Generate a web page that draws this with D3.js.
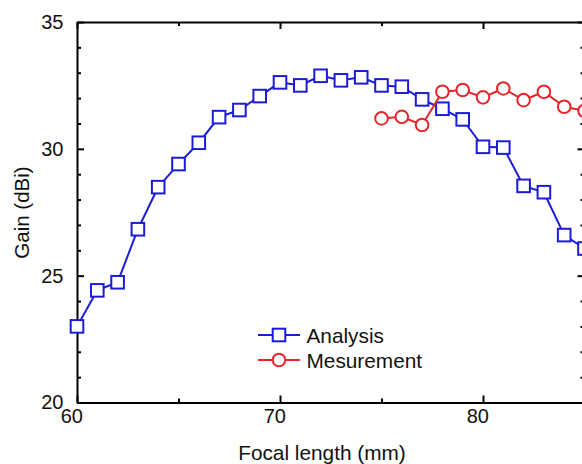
<!DOCTYPE html>
<html lang="en">
<head>
<meta charset="UTF-8">
<title>Gain vs focal length</title>
<script src="https://d3js.org/d3.v7.min.js"></script>
<style>
  body { margin: 0; background: #fff; }
  svg { display: block; font-family: "Liberation Sans", Arial, sans-serif; }
  .axis path, .axis line { stroke: #000; stroke-width: 2; }
  .axis text { font-size: 20px; fill: #111; font-family: "Liberation Sans", Arial, sans-serif; }
</style>
</head>
<body>
<div id="chart"></div>
<script>
// data
const focal = [60, 61, 62, 63, 64, 65, 66, 67, 68, 69, 70, 71, 72, 73, 74, 75, 76, 77, 78, 79, 80, 81, 82, 83, 84, 85];
const analysis = [23.0, 24.42, 24.74, 26.83, 28.49, 29.4, 30.24, 31.25, 31.53, 32.08, 32.62, 32.5, 32.88, 32.7, 32.82, 32.5, 32.45, 31.95, 31.58, 31.16, 30.08, 30.05, 28.54, 28.29, 26.6, 26.07];
const measFocal = [75, 76, 77, 78, 79, 80, 81, 82, 83, 84, 85];
const measurement = [31.2, 31.26, 30.94, 32.25, 32.32, 32.03, 32.38, 31.92, 32.25, 31.66, 31.5];
const xMajor = [60, 70, 80];
const xMinor = [65, 75, 85];
const yMajor = [20, 25, 30, 35];
const yMinor = [21, 22, 23, 24, 26, 27, 28, 29, 31, 32, 33, 34];
const seriesNames = ["Analysis", "Mesurement"];

const w = 582, h = 464;
const pLeft = 77, pRight = 584.5, pTop = 22, pBottom = 402.5;
const blue = "#1c1cd6", red = "#e4262b";

const x = d3.scaleLinear().domain([60, 85]).range([pLeft, pRight]);
const y = d3.scaleLinear().domain([20, 35]).range([pBottom, pTop]);

const svg = d3.select("#chart").append("svg")
    .attr("width", w)
    .attr("height", h);

// minor ticks (inward)
svg.append("g").attr("class", "axis")
    .attr("transform", "translate(" + pLeft + ",0)")
    .call(d3.axisLeft(y).tickValues(yMinor).tickSize(-4).tickFormat(""))
    .call(g => g.select(".domain").remove());
svg.append("g").attr("class", "axis")
    .attr("transform", "translate(" + pRight + ",0)")
    .call(d3.axisRight(y).tickValues(yMinor).tickSize(-4).tickFormat(""))
    .call(g => g.select(".domain").remove());
svg.append("g").attr("class", "axis")
    .attr("transform", "translate(0," + pBottom + ")")
    .call(d3.axisBottom(x).tickValues(xMinor).tickSize(-4).tickFormat(""))
    .call(g => g.select(".domain").remove());
svg.append("g").attr("class", "axis")
    .attr("transform", "translate(0," + pTop + ")")
    .call(d3.axisTop(x).tickValues(xMinor).tickSize(-4).tickFormat(""))
    .call(g => g.select(".domain").remove());

// major axes
svg.append("g").attr("class", "axis")
    .attr("transform", "translate(" + pLeft + ",0)")
    .call(d3.axisLeft(y).tickValues(yMajor).tickSize(-7).tickSizeOuter(0).tickPadding(13.5).tickFormat(d3.format("d")));
svg.append("g").attr("class", "axis")
    .attr("transform", "translate(" + pRight + ",0)")
    .call(d3.axisRight(y).tickValues(yMajor).tickSize(-7).tickSizeOuter(0).tickFormat(""));
svg.append("g").attr("class", "axis")
    .attr("transform", "translate(0," + pBottom + ")")
    .call(d3.axisBottom(x).tickValues(xMajor).tickSize(-7).tickSizeOuter(0).tickPadding(6.6).tickFormat(d3.format("d")))
    .call(g => g.selectAll("text").attr("x", -5.7));
svg.append("g").attr("class", "axis")
    .attr("transform", "translate(0," + pTop + ")")
    .call(d3.axisTop(x).tickValues(xMajor).tickSize(-7).tickSizeOuter(0).tickFormat(""));

// axis titles
svg.append("text")
    .attr("x", 322).attr("y", 460)
    .attr("text-anchor", "middle")
    .attr("font-size", 20.8).attr("fill", "#111")
    .text("Focal length (mm)");
svg.append("text")
    .attr("transform", "translate(29.3,212.5) rotate(-90)")
    .attr("text-anchor", "middle")
    .attr("font-size", 20.5).attr("fill", "#111")
    .text("Gain (dBi)");

const line = d3.line().x(d => x(d[0])).y(d => y(d[1]));
const aPts = focal.map((f, i) => [f, analysis[i]]);
const mPts = measFocal.map((f, i) => [f, measurement[i]]);

// analysis series
svg.append("path").datum(aPts)
    .attr("d", line).attr("fill", "none")
    .attr("stroke", blue).attr("stroke-width", 2);
svg.selectAll("rect.a").data(aPts).enter().append("rect")
    .attr("class", "a")
    .attr("x", d => x(d[0]) - 6.3).attr("y", d => y(d[1]) - 6.3)
    .attr("width", 12.6).attr("height", 12.6)
    .attr("fill", "#fff").attr("stroke", blue).attr("stroke-width", 2);

// measurement series
svg.append("path").datum(mPts)
    .attr("d", line).attr("fill", "none")
    .attr("stroke", red).attr("stroke-width", 2);
svg.selectAll("circle.m").data(mPts).enter().append("circle")
    .attr("class", "m")
    .attr("cx", d => x(d[0])).attr("cy", d => y(d[1]))
    .attr("r", 6.3)
    .attr("fill", "#fff").attr("stroke", red).attr("stroke-width", 2);

// legend
const lg = svg.append("g");
const lgY = [335, 360];
const lgCol = [blue, red];
seriesNames.forEach((name, i) => {
    lg.append("line")
        .attr("x1", 258).attr("x2", 300)
        .attr("y1", lgY[i]).attr("y2", lgY[i])
        .attr("stroke", lgCol[i]).attr("stroke-width", 2);
    if (i === 0) {
        lg.append("rect")
            .attr("x", 279 - 6.3).attr("y", lgY[i] - 6.3)
            .attr("width", 12.6).attr("height", 12.6)
            .attr("fill", "#fff").attr("stroke", blue).attr("stroke-width", 2);
    } else {
        lg.append("circle")
            .attr("cx", 279).attr("cy", lgY[i]).attr("r", 6.3)
            .attr("fill", "#fff").attr("stroke", red).attr("stroke-width", 2);
    }
    lg.append("text")
        .attr("x", 306.5).attr("y", lgY[i] + 7.7)
        .attr("font-size", 20.8).attr("fill", "#111")
        .text(name);
});
</script>
</body>
</html>
